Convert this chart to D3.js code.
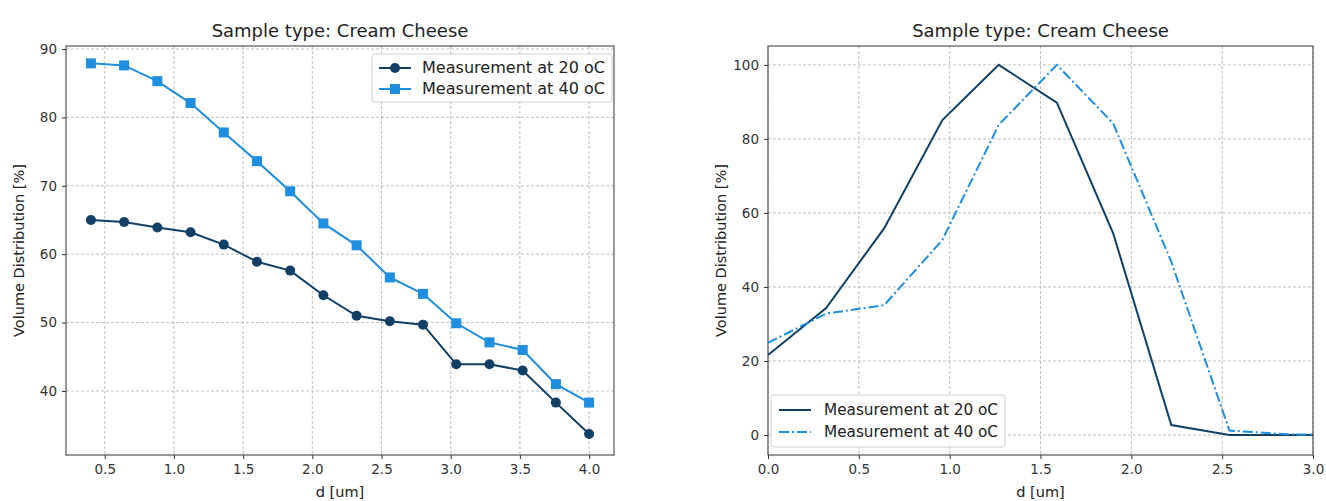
<!DOCTYPE html>
<html>
<head>
<meta charset="utf-8">
<script src="https://cdn.jsdelivr.net/npm/d3@7"></script>
<style>
  body { margin: 0; background: #fff; }
  svg { font-family: "DejaVu Sans", sans-serif; }
</style>
</head>
<body>
<svg id="chart" width="1326" height="501"></svg>
<script>
const width = 1326;
const height = 501;

// left panel: markers
const dLeft = [0.4, 0.64, 0.88, 1.12, 1.36, 1.6, 1.84, 2.08, 2.32, 2.56, 2.8, 3.04, 3.28, 3.52, 3.76, 4.0];
const left20 = [65.0, 64.7, 63.9, 63.2, 61.4, 58.9, 57.6, 54.0, 51.0, 50.2, 49.7, 43.9, 43.9, 43.0, 38.3, 33.7];
const left40 = [87.9, 87.6, 85.3, 82.1, 77.8, 73.6, 69.2, 64.5, 61.3, 56.6, 54.2, 49.9, 47.1, 46.0, 41.0, 38.3];

// right panel: distribution
const dRight = [0, 0.32, 0.64, 0.96, 1.27, 1.59, 1.9, 2.22, 2.54, 2.86, 3.17];
const right20 = [21.6, 34.3, 55.9, 85.1, 100, 89.8, 54.5, 2.7, 0, 0, 0];
const right40 = [24.9, 32.8, 35.1, 52.7, 83.8, 100, 84.2, 46.8, 1.2, 0.2, 0];

const leftTicksX = [0.5, 1.0, 1.5, 2.0, 2.5, 3.0, 3.5, 4.0];
const leftTicksY = [40, 50, 60, 70, 80, 90];
const rightTicksX = [0, 0.5, 1.0, 1.5, 2.0, 2.5, 3.0];
const rightTicksY = [0, 20, 40, 60, 80, 100];

const seriesNames = ["Measurement at 20 oC", "Measurement at 40 oC"];
const dark = "#123f63";
const light = "#1f8ee0";

const svg = d3.select("#chart");

function panel(opts) {
  const { x0, x1, y0, y1, xDomain, yDomain, xTicks, yTicks } = opts;
  const g = svg.append("g");
  const x = d3.scaleLinear().domain(xDomain).range([x0, x1]);
  const y = d3.scaleLinear().domain(yDomain).range([y1, y0]);

  const clipId = "clip" + Math.round(x0);
  svg.append("clipPath").attr("id", clipId)
    .append("rect").attr("x", x0).attr("y", y0).attr("width", x1 - x0).attr("height", y1 - y0);

  // grid
  g.append("g").selectAll("line").data(xTicks).join("line")
    .attr("x1", d => x(d)).attr("x2", d => x(d)).attr("y1", y0).attr("y2", y1)
    .attr("stroke", "#b0b0b0").attr("stroke-width", 0.8).attr("stroke-dasharray", "3,2");
  g.append("g").selectAll("line").data(yTicks).join("line")
    .attr("y1", d => y(d)).attr("y2", d => y(d)).attr("x1", x0).attr("x2", x1)
    .attr("stroke", "#b0b0b0").attr("stroke-width", 0.8).attr("stroke-dasharray", "3,2");

  // axes
  const fmt = d3.format(".1f");
  const ax = g.append("g").attr("transform", `translate(0,${y1})`)
    .call(d3.axisBottom(x).tickValues(xTicks).tickFormat(fmt).tickSize(4).tickPadding(5));
  const ay = g.append("g").attr("transform", `translate(${x0},0)`)
    .call(d3.axisLeft(y).tickValues(yTicks).tickFormat(d3.format("d")).tickSize(4).tickPadding(5));
  [ax, ay].forEach(a => {
    a.select(".domain").remove();
    a.selectAll("text").attr("font-size", 13.5).attr("fill", "#333")
      .attr("font-family", "DejaVu Sans, sans-serif");
    a.selectAll("line").attr("stroke", "#333");
  });

  // frame
  g.append("rect").attr("x", x0).attr("y", y0).attr("width", x1 - x0).attr("height", y1 - y0)
    .attr("fill", "none").attr("stroke", "#333").attr("stroke-width", 1);

  // labels
  g.append("text").attr("x", (x0 + x1) / 2).attr("y", 37).attr("text-anchor", "middle")
    .attr("font-size", 18).attr("fill", "#222").text("Sample type: Cream Cheese");
  g.append("text").attr("x", (x0 + x1) / 2).attr("y", 497).attr("text-anchor", "middle")
    .attr("font-size", 14.5).attr("fill", "#222").text("d [um]");
  g.append("text").attr("transform", `translate(${x0 - 42},${(y0 + y1) / 2}) rotate(-90)`)
    .attr("text-anchor", "middle").attr("font-size", 14.5).attr("fill", "#222")
    .text("Volume Distribution [%]");

  return { g, x, y, clipId };
}

// ---- left panel
const L = panel({
  x0: 66, x1: 614, y0: 46, y1: 455,
  xDomain: [0.22, 4.18], yDomain: [30.64, 90.44],
  xTicks: leftTicksX, yTicks: leftTicksY
});

const lineL = d3.line().x(d => L.x(d[0])).y(d => L.y(d[1]));
const l20 = dLeft.map((d, i) => [d, left20[i]]);
const l40 = dLeft.map((d, i) => [d, left40[i]]);

L.g.append("path").datum(l20).attr("d", lineL)
  .attr("fill", "none").attr("stroke", dark).attr("stroke-width", 2);
L.g.append("g").selectAll("circle").data(l20).join("circle")
  .attr("cx", d => L.x(d[0])).attr("cy", d => L.y(d[1])).attr("r", 5).attr("fill", dark);

L.g.append("path").datum(l40).attr("d", lineL)
  .attr("fill", "none").attr("stroke", light).attr("stroke-width", 2);
L.g.append("g").selectAll("rect").data(l40).join("rect")
  .attr("x", d => L.x(d[0]) - 5).attr("y", d => L.y(d[1]) - 5)
  .attr("width", 10).attr("height", 10).attr("fill", light);

// left legend
const legL = L.g.append("g").attr("transform", "translate(372,54)");
legL.append("rect").attr("width", 240).attr("height", 48).attr("rx", 3)
  .attr("fill", "#fff").attr("fill-opacity", 0.85).attr("stroke", "#d0d0d0");
seriesNames.forEach((name, i) => {
  const yy = 14 + i * 21;
  legL.append("line").attr("x1", 7).attr("x2", 39).attr("y1", yy).attr("y2", yy)
    .attr("stroke", i ? light : dark).attr("stroke-width", 2);
  if (i) legL.append("rect").attr("x", 18).attr("y", yy - 5).attr("width", 10).attr("height", 10).attr("fill", light);
  else legL.append("circle").attr("cx", 23).attr("cy", yy).attr("r", 5).attr("fill", dark);
  legL.append("text").attr("x", 50).attr("y", yy + 5).attr("font-size", 15.5).attr("fill", "#222")
    .attr("textLength", 183).attr("lengthAdjust", "spacingAndGlyphs").text(name);
});

// ---- right panel
const R = panel({
  x0: 768, x1: 1313, y0: 46, y1: 455,
  xDomain: [0, 3], yDomain: [-5.4, 105.1],
  xTicks: rightTicksX, yTicks: rightTicksY
});

const lineR = d3.line().x(d => R.x(d[0])).y(d => R.y(d[1]));
const r20 = dRight.map((d, i) => [d, right20[i]]);
const r40 = dRight.map((d, i) => [d, right40[i]]);

R.g.append("path").datum(r20).attr("d", lineR).attr("clip-path", `url(#${R.clipId})`)
  .attr("fill", "none").attr("stroke", dark).attr("stroke-width", 2);
R.g.append("path").datum(r40).attr("d", lineR).attr("clip-path", `url(#${R.clipId})`)
  .attr("fill", "none").attr("stroke", light).attr("stroke-width", 2)
  .attr("stroke-dasharray", "10,3,2,3");

// right legend
const legR = R.g.append("g").attr("transform", "translate(771,395)");
legR.append("rect").attr("width", 234).attr("height", 52).attr("rx", 3)
  .attr("fill", "#fff").attr("fill-opacity", 0.85).attr("stroke", "#d0d0d0");
seriesNames.forEach((name, i) => {
  const yy = 15 + i * 22;
  legR.append("line").attr("x1", 8).attr("x2", 40).attr("y1", yy).attr("y2", yy)
    .attr("stroke", i ? light : dark).attr("stroke-width", 2)
    .attr("stroke-dasharray", i ? "10,3,2,3" : null);
  legR.append("text").attr("x", 53).attr("y", yy + 5).attr("font-size", 15).attr("fill", "#222")
    .attr("textLength", 174).attr("lengthAdjust", "spacingAndGlyphs").text(name);
});
</script>
</body>
</html>
